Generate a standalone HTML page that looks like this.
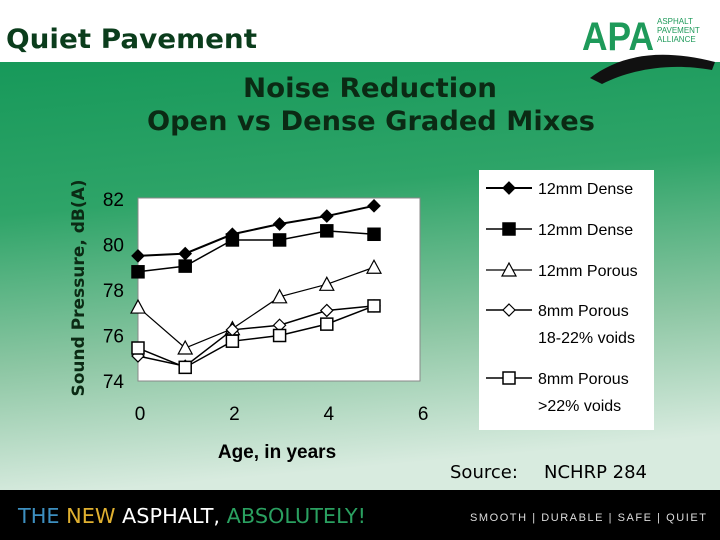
<!DOCTYPE html>
<html><head><meta charset="utf-8"><style>
html,body{margin:0;padding:0;width:720px;height:540px;overflow:hidden;font-family:"Liberation Sans",sans-serif}
#root{position:relative;width:720px;height:540px}
</style></head><body>
<div id="root">
<svg id="svg" width="720" height="540" xmlns="http://www.w3.org/2000/svg">
<defs>
<linearGradient id="bg" x1="0" y1="0" x2="0.15" y2="1">
<stop offset="0" stop-color="#17995a"/><stop offset="0.35" stop-color="#2ea468"/>
<stop offset="0.7" stop-color="#8cc6a3"/><stop offset="1" stop-color="#d8ebdf"/>
</linearGradient>
</defs>
<rect x="0" y="0" width="720" height="62" fill="#fff"/>
<rect x="0" y="62" width="720" height="428" fill="url(#bg)"/>
<rect x="0" y="490" width="720" height="50" fill="#000"/>
<text x="6" y="48" font-size="27" font-weight="bold" fill="#0b3d1c" font-family="DejaVu Sans, sans-serif" textLength="251" lengthAdjust="spacingAndGlyphs">Quiet Pavement</text>
<g>
<text x="582" y="50" font-size="40" font-weight="bold" fill="#1e9a5a" font-family="Liberation Sans Narrow, Liberation Sans, sans-serif" textLength="72" lengthAdjust="spacingAndGlyphs">APA</text>
<text x="657" y="24" font-size="8" fill="#1e9a5a">ASPHALT</text>
<text x="657" y="33" font-size="8" fill="#1e9a5a">PAVEMENT</text>
<text x="657" y="42" font-size="8" fill="#1e9a5a">ALLIANCE</text>
<path d="M590,78 C620,55 660,48 715,62 L712,70 C668,62 630,70 602,84 Z" fill="#111"/>
</g>
<text x="243" y="97" font-size="27" font-weight="bold" fill="#0b2a14" font-family="DejaVu Sans, sans-serif" textLength="254" lengthAdjust="spacingAndGlyphs">Noise Reduction</text>
<text x="147" y="130" font-size="27" font-weight="bold" fill="#0b2a14" font-family="DejaVu Sans, sans-serif" textLength="448" lengthAdjust="spacingAndGlyphs">Open vs Dense Graded Mixes</text>
<rect x="138" y="198" width="282" height="183" fill="#fff" stroke="#888" stroke-width="1"/>
<text transform="translate(84,288) rotate(-90)" font-size="17" font-weight="bold" text-anchor="middle" fill="#0b2a14" font-family="DejaVu Sans, sans-serif">Sound Pressure, dB(A)</text>
<text x="277" y="458" font-size="19" font-weight="bold" text-anchor="middle" fill="#000">Age, in years</text>
<rect x="479" y="170" width="175" height="260" fill="#fff"/>
<text y="478" font-size="18" fill="#000" font-family="DejaVu Sans, sans-serif"><tspan x="450">Source:</tspan><tspan x="544">NCHRP 284</tspan></text>
<text x="18" y="523" font-size="20" font-family="DejaVu Sans, sans-serif" textLength="348" lengthAdjust="spacingAndGlyphs"><tspan fill="#3d8fc0">THE </tspan><tspan fill="#e0b030">NEW </tspan><tspan fill="#fff">ASPHALT, </tspan><tspan fill="#2aa060">ABSOLUTELY!</tspan></text>
<text x="470" y="521" font-size="11" fill="#ddd" textLength="236" lengthAdjust="spacing">SMOOTH | DURABLE | SAFE | QUIET</text>
<g id="marks"></g>
</svg>
</div>
<script>
const years = [0, 1, 2, 3, 4, 5];
const dense12a = [79.5, 79.6, 80.45, 80.9, 81.25, 81.7];
const dense12b = [78.8, 79.05, 80.2, 80.2, 80.6, 80.45];
const porous12 = [77.25, 75.45, 76.3, 77.7, 78.25, 79.0];
const porous8a = [75.1, 74.65, 76.25, 76.45, 77.1, 77.3];
const porous8b = [75.45, 74.6, 75.75, 76.0, 76.5, 77.3];
const yTicks = [74, 76, 78, 80, 82];
const xTicks = [0, 2, 4, 6];
const legendLabels = [["12mm Dense"], ["12mm Dense"], ["12mm Porous"], ["8mm Porous", "18-22% voids"], ["8mm Porous", ">22% voids"]];

const NS = "http://www.w3.org/2000/svg";
const g = document.getElementById("marks");
const X = v => 138 + v * 47.2;
const Y = v => 381 - (v - 74) * 22.75;
function el(tag, a) { const e = document.createElementNS(NS, tag); for (const k in a) e.setAttribute(k, a[k]); g.appendChild(e); return e; }

yTicks.forEach(t => {
  const e = el("text", {x: 124, y: Y(t) + 7, "font-size": 19, "text-anchor": "end", fill: "#000"});
  e.textContent = t;
  
  
});
xTicks.forEach(t => {
  const e = el("text", {x: X(t) + 2, y: 420, "font-size": 19, "text-anchor": "middle", fill: "#000"});
  e.textContent = t;
  
  
});

function marker(type, cx, cy) {
  let e;
  if (type === "fdiamond" || type === "odiamond") {
    const r = 6;
    e = el("polygon", {points: `${cx},${cy-r} ${cx+r},${cy} ${cx},${cy+r} ${cx-r},${cy}`, fill: type === "fdiamond" ? "#000" : "#fff", stroke: "#000", "stroke-width": 1.2});
  } else if (type === "fsquare" || type === "osquare") {
    const r = 6;
    e = el("rect", {x: cx - r, y: cy - r, width: 2*r, height: 2*r, fill: type === "fsquare" ? "#000" : "#fff", stroke: "#000", "stroke-width": 1.5});
  } else {
    e = el("polygon", {points: `${cx},${cy-7} ${cx+7},${cy+6} ${cx-7},${cy+6}`, fill: "#fff", stroke: "#000", "stroke-width": 1.2});
  }
  
  
}

const series = [[dense12a, "fdiamond", 2], [dense12b, "fsquare", 1.5], [porous12, "triangle", 1.2], [porous8a, "odiamond", 1.5], [porous8b, "osquare", 1.5]];
const legendY = [188, 229, 270, 310, 378];
series.forEach(([vals, type, w], i) => {
  const pl = el("polyline", {points: vals.map((v, j) => X(years[j]) + "," + Y(v)).join(" "), fill: "none", stroke: "#000", "stroke-width": w});
  
  
  vals.forEach((v, j) => marker(type, X(years[j]), Y(v)));
  const ly = legendY[i];
  const ll = el("line", {x1: 486, y1: ly, x2: 532, y2: ly, stroke: "#000", "stroke-width": w});
  
  
  marker(type, 509, ly);
  legendLabels[i].forEach((s, k) => {
    const t = el("text", {x: 538, y: ly + 6 + k * 27, "font-size": 16, fill: "#000"});
    t.textContent = s;
    
    
  });
});
</script>
</body></html>
